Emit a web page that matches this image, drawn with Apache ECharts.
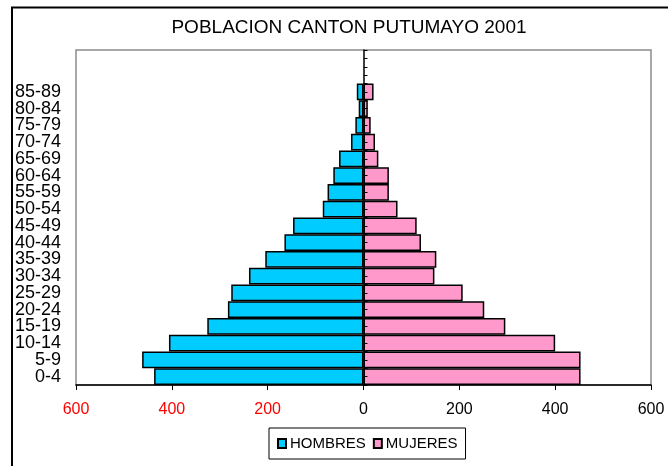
<!DOCTYPE html>
<html>
<head>
<meta charset="utf-8">
<script src="https://cdn.jsdelivr.net/npm/echarts@6/dist/echarts.min.js"></script>
<style>
  html, body { margin: 0; padding: 0; background: #fff; }
  #chart { width: 668px; height: 466px; }
</style>
</head>
<body>
<div id="chart"></div>
<script>
const title = 'POBLACION CANTON PUTUMAYO 2001'
const ageGroups = ['0-4', '5-9', '10-14', '15-19', '20-24', '25-29', '30-34', '35-39', '40-44',
  '45-49', '50-54', '55-59', '60-64', '65-69', '70-74', '75-79', '80-84', '85-89']
const hombres = [437, 462, 406, 326, 283, 276, 239, 205, 165, 147, 85, 75, 63, 51, 26, 17, 10, 14]
const mujeres = [453, 453, 400, 296, 252, 207, 148, 152, 120, 111, 71, 53, 53, 31, 24, 15, 9, 21]
const xTicks = [-600, -400, -200, 0, 200, 400, 600]

const font = "'Liberation Sans', Arial, sans-serif"
// two empty bands above 85-89, as in the original sheet
const cats = ageGroups.concat(['', ' '])

const gridLeft = 76
const gridRight = 17
const plotWidth = 668 - gridLeft - gridRight
// the middle axis sits on x = 0, halfway across the plot
const zeroOffset = -plotWidth / 2

const chart = echarts.init(document.getElementById('chart'))

const zeroAxis = (alignWithLabel) => ({
  type: 'category',
  data: cats,
  position: 'left',
  offset: zeroOffset,
  z: 5,
  axisLine: { show: !alignWithLabel, onZero: false, lineStyle: { color: '#000', width: 1.5 } },
  axisTick: { show: true, inside: true, length: 4, interval: 0, alignWithLabel, lineStyle: { color: '#000', width: 1 } },
  axisLabel: { show: false },
  splitLine: { show: false },
})

const option = {
  animation: false,
  textStyle: { fontFamily: font },
  title: {
    text: title,
    left: 344,
    textAlign: 'center',
    top: 13,
    textStyle: { fontFamily: font, fontSize: 19, fontWeight: 'normal', color: '#000' },
  },
  graphic: [
    {
      type: 'rect',
      shape: { x: 12, y: 7.5, width: 700, height: 500 },
      style: { fill: null, stroke: '#000', lineWidth: 2 },
      silent: true,
    },
  ],
  legend: {
    data: ['HOMBRES', 'MUJERES'],
    left: 269,
    top: 428,
    padding: [8, 8],
    itemGap: 7,
    itemWidth: 8,
    itemHeight: 9,
    icon: 'rect',
    borderColor: '#000',
    borderWidth: 1,
    textStyle: { fontFamily: font, fontSize: 15, color: '#000', padding: [0, 0, 0, -1] },
  },
  grid: {
    left: gridLeft,
    right: gridRight,
    top: 50,
    bottom: 81,
    show: true,
    borderColor: '#8c8c8c',
    borderWidth: 1.5,
  },
  xAxis: {
    type: 'value',
    min: xTicks[0],
    max: xTicks[xTicks.length - 1],
    interval: 200,
    axisLine: { show: true, onZero: false, lineStyle: { color: '#000', width: 1.5 } },
    axisTick: { show: true, length: 5, lineStyle: { color: '#000' } },
    splitLine: { show: false },
    axisLabel: {
      margin: 17,
      fontSize: 16,
      fontFamily: font,
      formatter: (v) => String(Math.abs(v)),
      color: (v) => (v < 0 ? '#ff0000' : '#000'),
    },
  },
  yAxis: [
    {
      type: 'category',
      data: cats,
      position: 'left',
      axisLine: { show: false, onZero: false },
      axisTick: { show: false },
      axisLabel: { interval: 0, margin: 15, fontSize: 18, fontFamily: font, color: '#000' },
    },
    zeroAxis(false),
    zeroAxis(true),
  ],
  series: [
    {
      name: 'HOMBRES',
      type: 'bar',
      stack: 'pop',
      yAxisIndex: 0,
      barCategoryGap: '0%',
      itemStyle: { color: '#00ccff', borderColor: '#000', borderWidth: 1.5 },
      data: hombres.map((v) => -v),
    },
    {
      name: 'MUJERES',
      type: 'bar',
      stack: 'pop',
      yAxisIndex: 0,
      barCategoryGap: '0%',
      itemStyle: { color: '#ff99cc', borderColor: '#000', borderWidth: 1.5 },
      data: mujeres,
    },
  ],
}

chart.setOption(option)
</script>
</body>
</html>
